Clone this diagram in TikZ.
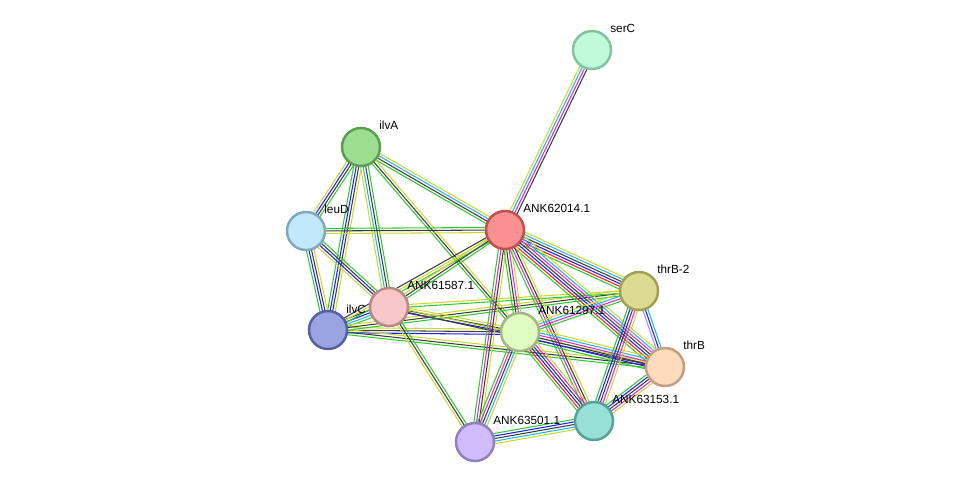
\documentclass[tikz,border=0pt]{standalone}
\usepackage{fontspec}
\setmainfont{Liberation Sans}
\usepackage{tikz}
\usetikzlibrary{calc, backgrounds}
\definecolor{sgreen}{RGB}{50, 200, 50}
\definecolor{syel}{RGB}{200, 218, 50}
\definecolor{sblack}{RGB}{60, 60, 60}
\definecolor{sblue}{RGB}{30, 30, 250}
\definecolor{smag}{RGB}{220, 40, 220}
\definecolor{scyan}{RGB}{40, 180, 225}
\definecolor{sred}{RGB}{250, 30, 30}
\definecolor{slblue}{RGB}{150, 150, 250}
\tikzset{
	protein/.style={circle, minimum size=0.76cm, inner sep=0pt, line width=1.4pt},
	lbl/.style={anchor=west, inner sep=0pt, font=\fontsize{6.7}{8}\selectfont},
	linkline/.style={line width=0.6pt}
}
% bundle of parallel coloured lines between two nodes
\newcommand{\linkedge}[3]{%
	\foreach \c [count=\n] in {#3} {\xdef\nlines{\n}}%
	\foreach \c [count=\i] in {#3} {
		\pgfmathsetmacro{\off}{(\i-(\nlines+1)/2)*1.45}
		\draw[linkline,\c] ($(#1.center)!\off pt!90:(#2.center)$) -- ($(#2.center)!\off pt!-90:(#1.center)$);
	}%
}

\begin{document}
\begin{tikzpicture}[x=0.02cm, y=-0.02cm]
	\useasboundingbox (0,0) rectangle (975,488);
	\node[protein, fill={rgb,255:red,192;green,250;blue,218}, draw={rgb,255:red,128;green,196;blue,160}] (serC) at (592,50) {};
	\node[protein, fill={rgb,255:red,158;green,222;blue,146}, draw={rgb,255:red,90;green,158;blue,80}] (ilvA) at (361,147) {};
	\node[protein, fill={rgb,255:red,194;green,232;blue,251}, draw={rgb,255:red,128;green,168;blue,192}] (leuD) at (306,231) {};
	\node[protein, fill={rgb,255:red,251;green,144;blue,144}, draw={rgb,255:red,192;green,80;blue,80}] (n62014) at (505,230) {};
	\node[lbl] (ilvC-l) at (346,309) {ilvC};
	\node[protein, fill={rgb,255:red,248;green,200;blue,200}, draw={rgb,255:red,184;green,136;blue,136}] (n61587) at (389,307) {};
	\node[protein, fill={rgb,255:red,154;green,164;blue,224}, draw={rgb,255:red,85;green,96;blue,160}] (ilvC) at (328,330) {};
	\node[protein, fill={rgb,255:red,224;green,252;blue,192}, draw={rgb,255:red,160;green,184;blue,128}] (n61297) at (520,332) {};
	\node[protein, fill={rgb,255:red,220;green,219;blue,148}, draw={rgb,255:red,160;green,160;blue,80}] (thrBb) at (639,291) {};
	\node[protein, fill={rgb,255:red,252;green,220;blue,188}, draw={rgb,255:red,192;green,160;blue,128}] (thrB) at (665,367) {};
	\node[protein, fill={rgb,255:red,152;green,223;blue,213}, draw={rgb,255:red,88;green,160;blue,152}] (n63153) at (594,421) {};
	\node[protein, fill={rgb,255:red,208;green,188;blue,250}, draw={rgb,255:red,144;green,128;blue,192}] (n63501) at (475,442) {};

	\node[lbl] (serC-l) at ($(serC)+(18,-22)$) {serC};
	\node[lbl] (ilvA-l) at ($(ilvA)+(18,-22)$) {ilvA};
	\node[lbl] (leuD-l) at ($(leuD)+(18,-22)$) {leuD};
	\node[lbl] (n62014-l) at ($(n62014)+(18,-22)$) {ANK62014.1};
	\node[lbl] (n61587-l) at ($(n61587)+(18,-22)$) {ANK61587.1};
	\node[lbl] (n61297-l) at ($(n61297)+(18,-22)$) {ANK61297.1};
	\node[lbl] (thrBb-l) at ($(thrBb)+(18,-22)$) {thrB-2};
	\node[lbl] (thrB-l) at ($(thrB)+(18,-22)$) {thrB};
	\node[lbl] (n63153-l) at ($(n63153)+(18,-22)$) {ANK63153.1};
	\node[lbl] (n63501-l) at ($(n63501)+(18,-22)$) {ANK63501.1};

	\begin{scope}[on background layer]
		\linkedge{serC}{n62014}{syel,scyan,smag,sblack}
		\linkedge{ilvA}{leuD}{syel,sblue,sblack,sgreen}
		\linkedge{ilvA}{n62014}{sgreen,sblack,scyan,syel}
		\linkedge{ilvA}{ilvC}{sgreen,sblue,sblack,syel}
		\linkedge{ilvA}{n61587}{syel,scyan,sblack,sgreen}
		\linkedge{ilvA}{n61297}{sgreen,sblack,syel}
		\linkedge{leuD}{n62014}{syel,sblack,sgreen}
		\linkedge{leuD}{ilvC}{sgreen,sblue,sblack,syel}
		\linkedge{leuD}{n61587}{syel,sblue,sblack,sgreen}
		\linkedge{ilvC}{n61587}{sgreen,scyan,sblue,sblack}
		\linkedge{ilvC}{n62014}{sgreen,syel,sblack}
		\linkedge{ilvC}{n61297}{sblue,sblack,syel}
		\linkedge{ilvC}{thrBb}{sgreen,sblack,syel}
		\linkedge{ilvC}{thrB}{sgreen,sblack,syel}
		\linkedge{n61587}{n62014}{sgreen,sblack,syel}
		\linkedge{n61587}{n61297}{sblue,sblack,syel}
		\linkedge{n61587}{thrBb}{sgreen,syel}
		\linkedge{n61587}{thrB}{sblack,syel}
		\linkedge{n61587}{n63501}{syel,sblack,sgreen}
		\linkedge{n62014}{n61297}{sgreen,sblack,smag,syel}
		\linkedge{n62014}{thrBb}{sgreen,sred,sblue,sblack,scyan,syel}
		\linkedge{n62014}{thrB}{sgreen,sred,sblue,sblack,smag,scyan,syel}
		\linkedge{n62014}{n63153}{sgreen,smag,sblack,syel}
		\linkedge{n62014}{n63501}{sgreen,smag,sblack,syel}
		\linkedge{n61297}{thrBb}{sgreen,smag,scyan,syel}
		\linkedge{n61297}{thrB}{sgreen,sblue,sblack,smag,scyan,syel}
		\linkedge{n61297}{n63153}{sgreen,sred,sblue,sblack,smag,syel}
		\linkedge{n61297}{n63501}{sgreen,smag,sblack,scyan,syel}
		\linkedge{thrBb}{thrB}{slblue,sblue,scyan}
		\linkedge{thrBb}{n63153}{sgreen,sblue,sblack,smag,syel}
		\linkedge{thrB}{n63153}{sgreen,sblue,sblack,smag,syel}
		\linkedge{n63153}{n63501}{sgreen,sblue,sblack,scyan,syel}
	\end{scope}
\end{tikzpicture}
\end{document}
